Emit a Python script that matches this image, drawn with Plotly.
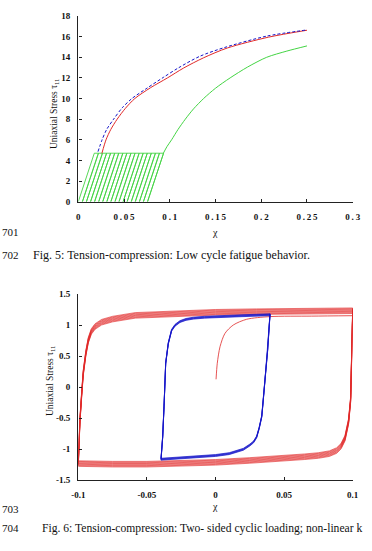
import plotly.graph_objects as go

# ---------------- Fig. 5 data ----------------
blue_x = [0.0215, 0.026, 0.031, 0.0386, 0.048, 0.0586, 0.075, 0.093, 0.11, 0.133, 0.16, 0.206, 0.25]
blue_y = [4.85, 6.0, 7.0, 8.0, 9.1, 10.0, 11.0, 12.05, 13.0, 14.1, 14.95, 16.05, 16.65]

red_x = [0.0258, 0.0303, 0.0355, 0.0425, 0.0515, 0.0618, 0.079, 0.0975, 0.115, 0.137, 0.163, 0.208, 0.25]
red_y = [4.69, 6.0, 7.0, 8.0, 9.05, 10.0, 11.05, 12.0, 12.95, 13.95, 14.9, 15.95, 16.62]

green_x = [0.093, 0.097, 0.102, 0.109, 0.117, 0.126, 0.137, 0.15, 0.166, 0.185, 0.206, 0.228, 0.25]
green_y = [4.7, 5.35, 6.0, 7.0, 8.0, 9.0, 10.0, 11.0, 12.0, 13.05, 14.0, 14.6, 15.1]

cycle_start = [0.0, 0.0045, 0.0089, 0.0134, 0.0178, 0.0223, 0.0267, 0.0312, 0.0356,
               0.0401, 0.0445, 0.049, 0.0534, 0.0579, 0.0623, 0.0668, 0.0712, 0.0757]
cycle_peak = [0.0175, 0.022, 0.0264, 0.0309, 0.0353, 0.0398, 0.0442, 0.0487, 0.0531,
              0.0576, 0.062, 0.0665, 0.0709, 0.0754, 0.0798, 0.0843, 0.0887, 0.0932]
peak_stress = 4.7

# ---------------- Fig. 6 data ----------------
red_asc_x = [-0.1, -0.0995, -0.0988, -0.0975, -0.0964, -0.0945, -0.0927, -0.0905, -0.0878, -0.083,
             -0.075, -0.0585, -0.03, 0.0, 0.03, 0.06, 0.1]
red_asc_y = [-1.23, -0.9, -0.53, -0.1, 0.23, 0.55, 0.76, 0.9, 0.98, 1.05,
             1.1, 1.16, 1.19, 1.21, 1.22, 1.23, 1.235]
red_desc_x = [0.1, 0.0995, 0.0985, 0.097, 0.0944, 0.0915, 0.0883, 0.083, 0.075, 0.065,
              0.05, 0.025, 0.0, -0.025, -0.05, -0.075, -0.1]
red_desc_y = [1.235, 0.6, -0.2, -0.55, -0.82, -0.95, -1.02, -1.07, -1.1, -1.12,
              -1.145, -1.18, -1.21, -1.225, -1.24, -1.24, -1.23]
red_band = [-0.045, -0.034, -0.023, -0.011, 0.0, 0.011, 0.023, 0.034, 0.045]

red0_x = [0.0004, 0.0013, 0.0033, 0.0069, 0.013, 0.0227, 0.0397, 0.07, 0.1]
red0_y = [0.129, 0.387, 0.655, 0.87, 1.005, 1.097, 1.14, 1.148, 1.155]

blue_asc_x = [-0.0397, -0.0385, -0.0375, -0.0363, -0.0344, -0.032, -0.0295, -0.0259, -0.0215, -0.0162, -0.008, 0.0, 0.02, 0.0397]
blue_asc_y = [-1.16, -0.8, -0.3, 0.39, 0.71, 0.92, 1.0, 1.06, 1.095, 1.115, 1.13, 1.14, 1.155, 1.17]
blue_desc_x = [0.0397, 0.038, 0.036, 0.0345, 0.0337, 0.0318, 0.03, 0.0278, 0.0251, 0.0203, 0.01, 0.0, -0.02, -0.0397]
blue_desc_y = [1.17, 0.6, 0.1, -0.3, -0.47, -0.66, -0.8, -0.88, -0.93, -1.0, -1.07, -1.1, -1.13, -1.16]
blue_band = [-0.015, -0.0075, 0.0, 0.0075, 0.015]

RED = "#e02828"
BLUE = "#1414c8"
GREEN = "#44d444"
SERIF = "Liberation Serif"

fig = go.Figure()

# ---- Fig 5 ----
saw_x, saw_y = [], []
for i in range(len(cycle_start)):
    saw_x += [cycle_start[i], cycle_peak[i]]
    saw_y += [0.0, peak_stress]
    if i + 1 < len(cycle_start):
        saw_x += [cycle_peak[i + 1], cycle_start[i + 1]]
        saw_y += [peak_stress, 0.0]
fig.add_trace(go.Scatter(x=saw_x, y=saw_y, mode="lines", line=dict(color=GREEN, width=0.9),
                         xaxis="x", yaxis="y", showlegend=False))
fig.add_trace(go.Scatter(x=green_x, y=green_y, mode="lines", line=dict(color=GREEN, width=1, shape="spline", smoothing=0.8),
                         xaxis="x", yaxis="y", showlegend=False))
fig.add_trace(go.Scatter(x=red_x, y=red_y, mode="lines", line=dict(color=RED, width=1, shape="spline", smoothing=0.8),
                         xaxis="x", yaxis="y", showlegend=False))
fig.add_trace(go.Scatter(x=blue_x, y=blue_y, mode="lines",
                         line=dict(color=BLUE, width=1, dash="3px,2px", shape="spline", smoothing=0.8),
                         xaxis="x", yaxis="y", showlegend=False))

# ---- Fig 6 ----
for d in red_band:
    xs = red_asc_x + red_desc_x
    ys = [v + d for v in red_asc_y] + [v - d for v in red_desc_y]
    fig.add_trace(go.Scatter(x=xs, y=ys, mode="lines", line=dict(color=RED, width=0.6),
                             xaxis="x2", yaxis="y2", showlegend=False))
fig.add_trace(go.Scatter(x=red0_x, y=red0_y, mode="lines", line=dict(color=RED, width=0.8, shape="spline", smoothing=0.8),
                         xaxis="x2", yaxis="y2", showlegend=False))
for d in blue_band:
    xs = blue_asc_x + blue_desc_x
    ys = [v + d for v in blue_asc_y] + [v - d for v in blue_desc_y]
    fig.add_trace(go.Scatter(x=xs, y=ys, mode="lines", line=dict(color=BLUE, width=0.7),
                             xaxis="x2", yaxis="y2", showlegend=False))

tickfont = dict(family=SERIF, size=9, color="#111", weight="bold")
axis_common = dict(showline=True, linecolor="#222", linewidth=1.4, ticks="inside", ticklen=3,
                   tickcolor="#222", tickwidth=1, showgrid=False, zeroline=False,
                   tickfont=tickfont, mirror=False, automargin=False)

TS = "\u2009"
x1_vals = [0, 0.05, 0.1, 0.15, 0.2, 0.25, 0.3]
x1_text = ["0", "0.05", "0.1", "0.15", "0.2", "0.25", "0.3"]
x1_shown = [TS.join(list(t)) for t in x1_text]
y1_vals = [0, 2, 4, 6, 8, 10, 12, 14, 16, 18]
x2_vals = [-0.1, -0.05, 0, 0.05, 0.1]
x2_text = ["-0.1", "-0.05", "0", "0.05", "0.1"]
y2_vals = [-1.5, -1, -0.5, 0, 0.5, 1, 1.5]
y2_text = ["-1.5", "-1", "-0.5", "0", "0.5", "1", "1.5"]

W, H = 372, 551
fig.update_layout(
    width=W, height=H, margin=dict(l=0, r=0, t=0, b=0, pad=0), autosize=False,
    paper_bgcolor="white", plot_bgcolor="white",
    xaxis=dict(domain=[78.3 / W, 352.7 / W], anchor="y", range=[0, 0.3],
               tickvals=x1_vals, ticktext=x1_shown, ticklabelstandoff=6, **axis_common),
    yaxis=dict(domain=[1 - 201.7 / H, 1 - 16 / H], anchor="x", range=[0, 18],
               tickvals=y1_vals, ticklabelstandoff=5, **axis_common),
    xaxis2=dict(domain=[78.3 / W, 352.7 / W], anchor="y2", range=[-0.1, 0.1],
                tickvals=x2_vals, ticktext=x2_text, ticklabelstandoff=6, **axis_common),
    yaxis2=dict(domain=[1 - 480.3 / H, 1 - 294.3 / H], anchor="x2", range=[-1.5, 1.5],
                tickvals=y2_vals, ticktext=y2_text, ticklabelstandoff=5, **axis_common),
)

def px_ann(text, x, y, size=12, xanchor="left", angle=0, color="#111"):
    fig.add_annotation(text=text, x=x / W, y=1 - y / H, xref="paper", yref="paper",
                       showarrow=False, xanchor=xanchor, yanchor="middle", textangle=angle,
                       borderpad=0, font=dict(family=SERIF, size=size, color=color))

px_ann("Uniaxial Stress τ<sub>11</sub>", 55, 114, size=9.5, xanchor="center", angle=-90)
px_ann("Uniaxial Stress τ<sub>11</sub>", 50, 381, size=9.5, xanchor="center", angle=-90)
px_ann("χ", 215, 232, size=10, xanchor="center")
px_ann("χ", 215, 506, size=10, xanchor="center")
px_ann("701", 0.5, 232, size=11)
px_ann("702", 0.5, 255, size=11)
px_ann("Fig. 5: Tension-compression: Low cycle fatigue behavior.", 32, 255)
px_ann("703", 0.5, 509, size=11)
px_ann("704", 0.5, 528, size=11)
px_ann("Fig. 6: Tension-compression: Two- sided cyclic loading; non-linear k", 40.5, 528, size=11.6)

fig.write_html("out.html")
